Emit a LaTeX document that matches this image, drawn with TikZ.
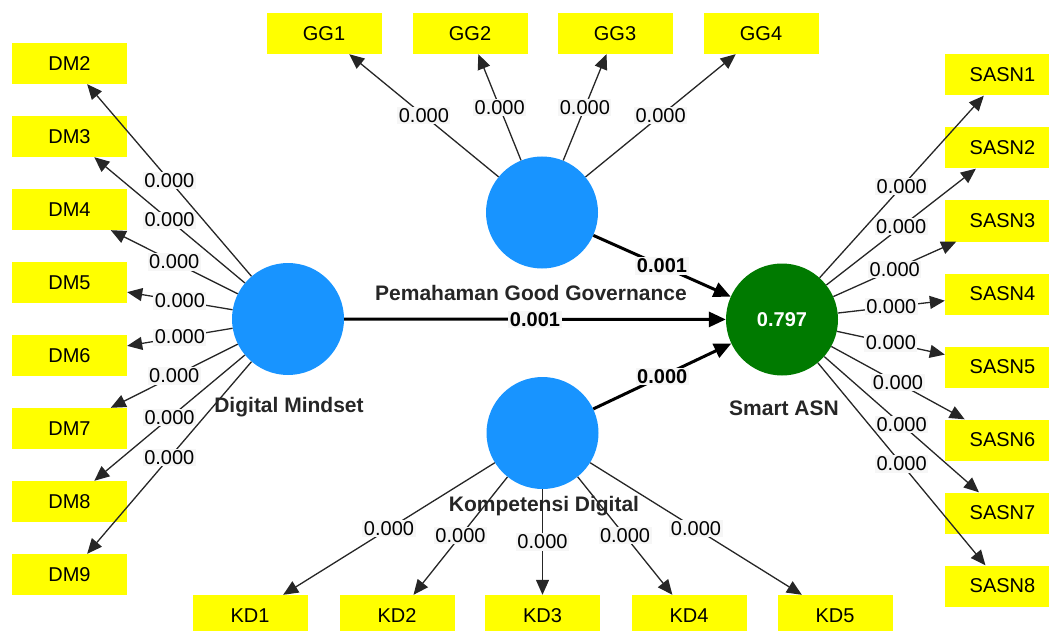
\documentclass[tikz,border=0pt]{standalone}
\usepackage{fontspec}
\setmainfont{Liberation Sans}
\usetikzlibrary{arrows.meta}
\definecolor{latentblue}{RGB}{24,148,255}
\definecolor{endogreen}{RGB}{0,122,0}
\definecolor{indyellow}{RGB}{255,255,0}
\definecolor{weightbg}{RGB}{246,246,246}
\begin{document}
\begin{tikzpicture}[x=1pt,y=-1pt,
  lv/.style={circle, fill=latentblue, minimum size=112pt, inner sep=0pt},
  mv/.style={rectangle, fill=indyellow, minimum width=115pt, minimum height=41pt,
             inner sep=0pt, font=\fontsize{20}{22}\selectfont},
  loading/.style={-{Triangle[length=15pt,width=13pt]}, line width=1.3pt, draw=black!85},
  structarrow/.style={-{Triangle[length=17pt,width=15pt]}, line width=3pt},
  wt/.style={fill=weightbg, inner sep=1.5pt, font=\fontsize{20}{22}\selectfont, text=black},
  bwt/.style={fill=weightbg, inner sep=1.5pt, font=\fontsize{20}{22}\selectfont\bfseries, text=black},
  lvname/.style={font=\fontsize{21}{23}\selectfont\bfseries, text=black!85}
]
\useasboundingbox (0,0) rectangle (1049,631);
\clip (0,0) rectangle (1049,631);

% latent variables
\node[lv] (DMlv) at (288,319) {};
\node[lv] (GGlv) at (542,212.5) {};
\node[lv] (KDlv) at (542.5,433) {};
\node[lv, fill=endogreen, text=white, font=\fontsize{20}{22}\selectfont\bfseries] (SAlv) at (782,319.5) {0.797};

\node[lvname] (DMname) at (289,407) {Digital Mindset};
\node[lvname] (GGname) at (531,293) {Pemahaman Good Governance};
\node[lvname] (KDname) at (544,506) {Kompetensi Digital};
\node[lvname] (SAname) at (784,408) {Smart ASN};

% indicators of Digital Mindset
\foreach \i [count=\k from 0] in {2,...,9}
  \node[mv] (DM\i) at (69.5,63.5+73*\k) {DM\i};
% indicators of Pemahaman Good Governance
\foreach \i/\x in {1/324,2/470,3/615,4/761}
  \node[mv] (GG\i) at (\x,33.5) {GG\i};
% indicators of Kompetensi Digital
\foreach \i/\x in {1/250,2/397,3/542.5,4/689,5/835}
  \node[mv] (KD\i) at (\x,615.5) {KD\i};
% indicators of Smart ASN
\foreach \i [count=\k from 0] in {1,...,8}
  \node[mv] (SASN\i) at (1002.5,75+73*\k) {SASN\i};

% outer loadings
\foreach \i in {2,...,9}
  \draw[loading] (DMlv) -- node[wt] {0.000} (DM\i);
\foreach \i in {1,...,4}
  \draw[loading] (GGlv) -- node[wt] {0.000} (GG\i);
\foreach \i in {1,...,5}
  \draw[loading] (KDlv) -- node[wt] {0.000} (KD\i);
\foreach \i in {1,...,8}
  \draw[loading] (SAlv) -- node[wt] {0.000} (SASN\i);

% structural paths
\draw[structarrow] (DMlv) -- node[bwt] {0.001} (SAlv);
\draw[structarrow] (GGlv) -- node[bwt] {0.001} (SAlv);
\draw[structarrow] (KDlv) -- node[bwt] {0.000} (SAlv);
\end{tikzpicture}
\end{document}
